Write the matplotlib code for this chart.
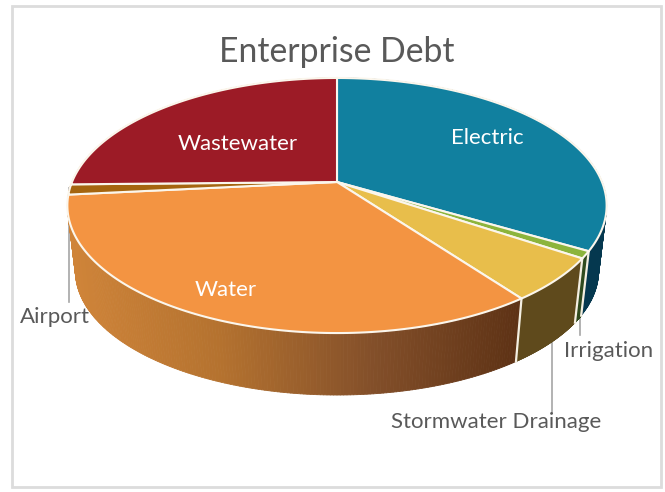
import numpy as np
import matplotlib
matplotlib.use('Agg')
import matplotlib.pyplot as plt
from matplotlib.collections import PolyCollection
from matplotlib.colors import LinearSegmentedColormap, Normalize
from matplotlib.patches import Polygon, Rectangle

plt.rcParams['font.family'] = ['Lato', 'DejaVu Sans']

title = 'Enterprise Debt'
categories = ['Electric', 'Irrigation', 'Stormwater Drainage', 'Water', 'Airport', 'Wastewater']
shares = [33.5, 0.9, 5.5, 33.5, 1.3, 25.3]
top_colors = ['#11809F', '#8CB43C', '#E8BE4B', '#F39442', '#A5650F', '#9C1B26']
wall_colors = ['#05384F', '#2F4A1E', '#5F4A1C', None, None, None]

# pie geometry in pixels, with a bit of perspective
CX, CY = 337, 182
A, B, P = 265, 123.2, 0.1844
DEPTH, SHRINK = 66.5, 0.97


def rim(angles, drop=0.0, scale=1.0):
    # angles are clockwise from twelve o'clock, degrees
    t = np.radians(90 - np.asarray(angles))
    u, v = np.cos(t), np.sin(t)
    w = 1 + P * v
    return np.column_stack([CX + scale * A * u / w, CY + drop - scale * B * v / w])


fig = plt.figure(figsize=(6.65, 4.92), dpi=100)
ax = fig.add_axes([0, 0, 1, 1])
ax.set_xlim(0, 665)
ax.set_ylim(492, 0)
ax.axis('off')

ax.add_patch(Rectangle((12, 6), 649, 481, fc='white', ec='#DCDCDC', lw=2))

# leader lines sit behind the pie
ax.plot([68.5, 68.5], [188, 302], color='#A6A6A6', lw=1.2)
ax.plot([580, 580], [300, 335], color='#A6A6A6', lw=1.2)
ax.plot([552, 552], [335, 413], color='#A6A6A6', lw=1.2)

edges = np.cumsum([0] + shares) / sum(shares) * 360
water_grad = LinearSegmentedColormap.from_list(
    'water_wall', ['#CF8439', '#B4722F', '#84502A', '#5E3215'])
x_norm = Normalize(70, 522, clip=True)

# side walls first, the top faces go over them
for i, name in enumerate(categories):
    th = np.linspace(edges[i], edges[i + 1], 200)
    upper = rim(th)
    lower = rim(th, DEPTH, SHRINK)
    quads = [[upper[k], upper[k + 1], lower[k + 1], lower[k]] for k in range(len(th) - 1)]
    if wall_colors[i] is None:
        # the orange wall shades from left to right
        cols = water_grad(x_norm(upper[:-1, 0]))
    else:
        cols = wall_colors[i]
    ax.add_collection(PolyCollection(quads, facecolors=cols, edgecolors=cols, linewidths=0.6, zorder=2))

# white seams down the front of the wall
for end in edges[1:4]:
    seam = np.vstack([rim([end]), rim([end], DEPTH, SHRINK)])
    ax.plot(seam[:, 0], seam[:, 1], color='#F4EFE2', lw=1.6, zorder=3)

for i, name in enumerate(categories):
    th = np.linspace(edges[i], edges[i + 1], 120)
    pts = np.vstack([[CX, CY], rim(th)])
    ax.add_patch(Polygon(pts, fc=top_colors[i], ec='#FBF6EC', lw=1.5,
                         joinstyle='round', zorder=4))

ax.text(337, 52, title, fontsize=24.3, color='#595959', ha='center', va='center', zorder=5)
ax.text(487, 138, 'Electric', fontsize=16, color='white', ha='center', va='center', zorder=5)
ax.text(237.5, 144, 'Wastewater', fontsize=16, color='white', ha='center', va='center', zorder=5)
ax.text(225.5, 290, 'Water', fontsize=16, color='white', ha='center', va='center', zorder=5)
ax.text(55, 317, 'Airport', fontsize=16, color='#595959', ha='center', va='center', zorder=5)
ax.text(608.5, 351, 'Irrigation', fontsize=16, color='#595959', ha='center', va='center', zorder=5)
ax.text(496, 422, 'Stormwater Drainage', fontsize=16, color='#595959', ha='center', va='center', zorder=5)

plt.savefig('out.png', dpi=100)
